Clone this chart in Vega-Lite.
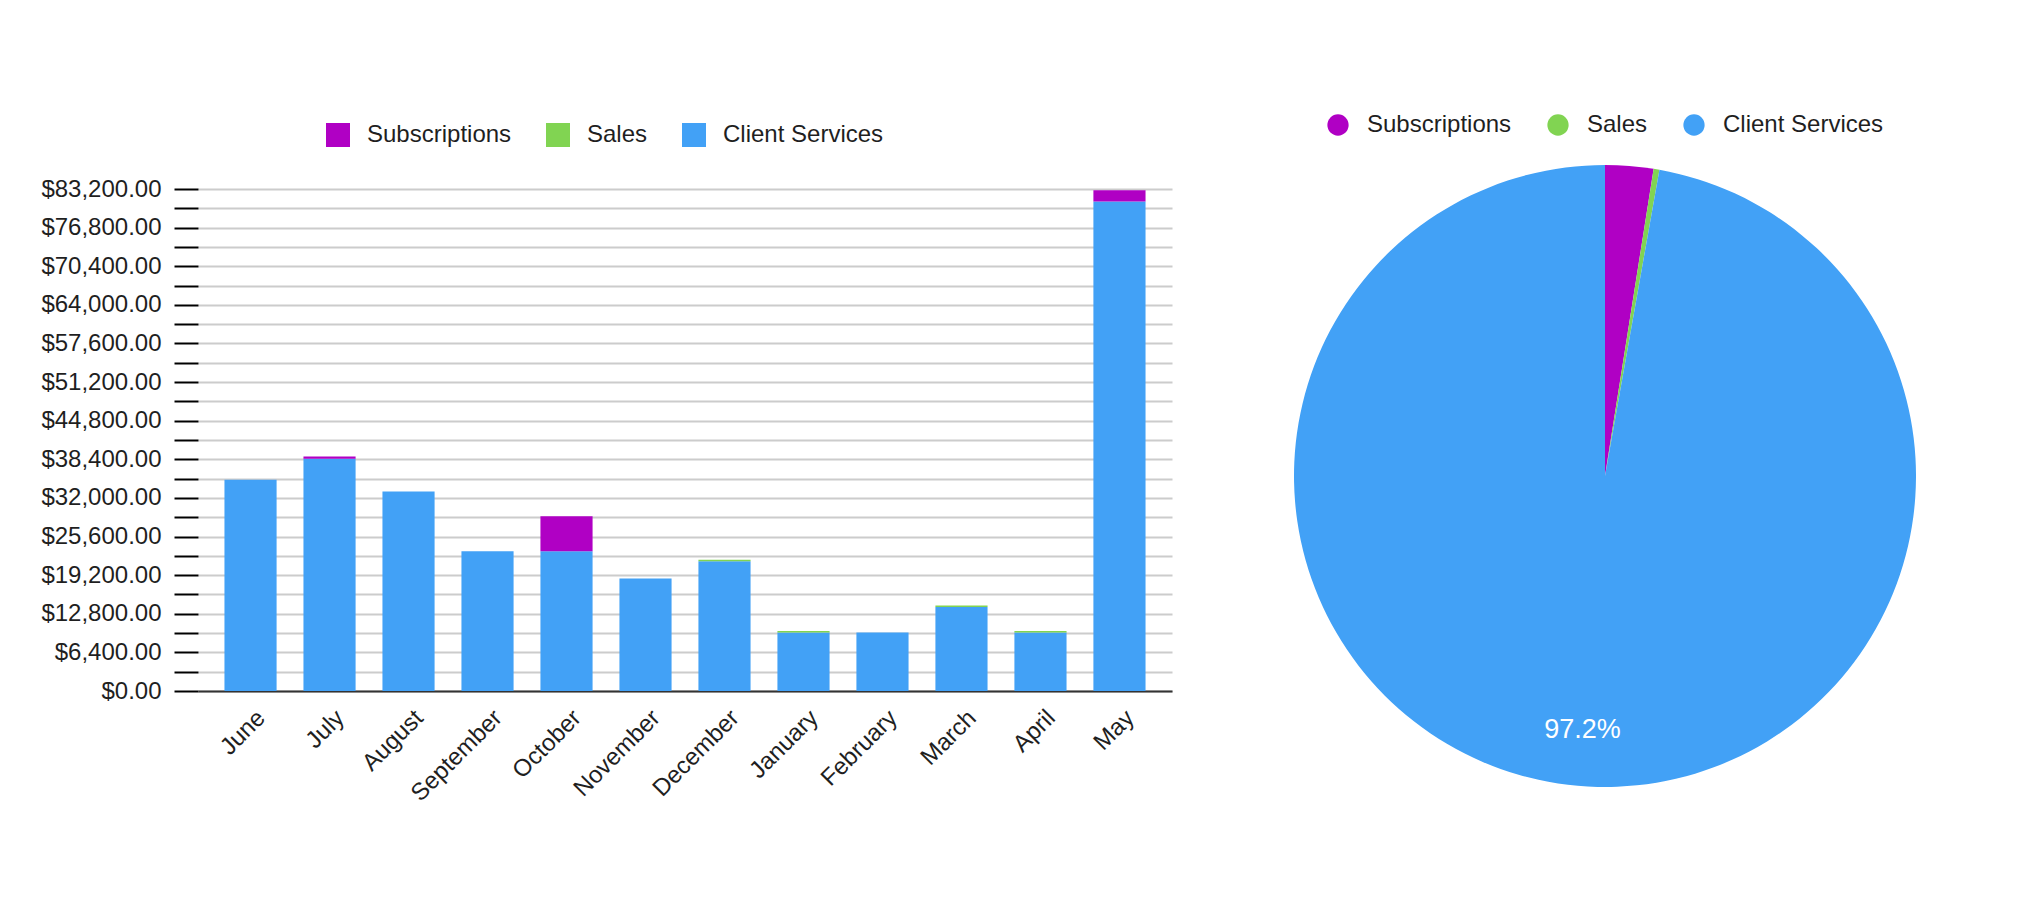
{
  "$schema": "https://vega.github.io/schema/vega-lite/v6.json",
  "padding": {"left": 40, "top": 113, "right": 0, "bottom": 0},
  "autosize": {"type": "pad"},
  "config": {
    "view": {"stroke": null},
    "font": "Liberation Sans",
    "concat": {"spacing": 122}
  },
  "datasets": {
    "monthly": [
      {"month": "June", "series": "Client Services", "amount": 35000},
      {"month": "July", "series": "Client Services", "amount": 38500},
      {"month": "July", "series": "Subscriptions", "amount": 350},
      {"month": "August", "series": "Client Services", "amount": 33070},
      {"month": "September", "series": "Client Services", "amount": 23150},
      {"month": "October", "series": "Client Services", "amount": 23150},
      {"month": "October", "series": "Subscriptions", "amount": 5800},
      {"month": "November", "series": "Client Services", "amount": 18650},
      {"month": "December", "series": "Client Services", "amount": 21510},
      {"month": "December", "series": "Sales", "amount": 250},
      {"month": "January", "series": "Client Services", "amount": 9710},
      {"month": "January", "series": "Sales", "amount": 250},
      {"month": "February", "series": "Client Services", "amount": 9710},
      {"month": "March", "series": "Client Services", "amount": 13910},
      {"month": "March", "series": "Sales", "amount": 250},
      {"month": "April", "series": "Client Services", "amount": 9710},
      {"month": "April", "series": "Sales", "amount": 250},
      {"month": "May", "series": "Client Services", "amount": 81110},
      {"month": "May", "series": "Subscriptions", "amount": 1900}
    ],
    "share": [
      {"series": "Subscriptions", "share": 0.025},
      {"series": "Sales", "share": 0.003},
      {"series": "Client Services", "share": 0.972}
    ]
  },
  "hconcat": [
    {
      "width": 974,
      "height": 502,
      "data": {"name": "monthly"},
      "mark": {"type": "bar"},
      "encoding": {
        "x": {
          "field": "month",
          "type": "nominal",
          "sort": ["June", "July", "August", "September", "October", "November", "December", "January", "February", "March", "April", "May"],
          "scale": {"paddingInner": 0.34, "paddingOuter": 0.335},
          "axis": {
            "title": null,
            "labelAngle": -45,
            "labelAlign": "right",
            "labelBaseline": "middle",
            "labelFontSize": 24,
            "labelColor": "#1f1f1f",
            "labelPadding": 23,
            "labelOffset": 11,
            "ticks": false,
            "grid": false,
            "domainColor": "#333333",
            "domainWidth": 2
          }
        },
        "y": {
          "field": "amount",
          "type": "quantitative",
          "stack": "zero",
          "scale": {"domain": [0, 83200], "nice": false},
          "axis": {
            "title": null,
            "values": [0, 3200, 6400, 9600, 12800, 16000, 19200, 22400, 25600, 28800, 32000, 35200, 38400, 41600, 44800, 48000, 51200, 54400, 57600, 60800, 64000, 67200, 70400, 73600, 76800, 80000, 83200],
            "labelExpr": "datum.value % 6400 === 0 ? format(datum.value, '$,.2f') : ''",
            "domain": false,
            "tickSize": 24,
            "tickColor": "#000000",
            "tickWidth": 2,
            "gridColor": "#cccccc",
            "gridWidth": 2,
            "labelFontSize": 24,
            "labelPadding": 13,
            "labelColor": "#1f1f1f"
          }
        },
        "color": {
          "field": "series",
          "type": "nominal",
          "scale": {"domain": ["Subscriptions", "Sales", "Client Services"], "range": ["#b000c4", "#81d452", "#42a1f6"]},
          "legend": {
            "orient": "none",
            "legendX": 128,
            "legendY": -66,
            "direction": "horizontal",
            "title": null,
            "symbolType": "square",
            "symbolSize": 576,
            "symbolStrokeWidth": 0,
            "symbolOpacity": 1,
            "labelFontSize": 24,
            "labelOffset": 17,
            "labelLimit": 400,
            "columnPadding": 34,
            "labelColor": "#1f1f1f",
            "padding": 0
          }
        },
        "order": {"field": "series", "sort": "ascending"}
      }
    },
    {
      "width": 622,
      "height": 574,
      "data": {"name": "share"},
      "encoding": {
        "theta": {"field": "share", "type": "quantitative", "stack": true},
        "order": {"field": "series", "sort": "descending"}
      },
      "layer": [
        {
          "mark": {"type": "arc", "outerRadius": 311},
          "encoding": {
            "color": {
              "field": "series",
              "type": "nominal",
              "scale": {"domain": ["Subscriptions", "Sales", "Client Services"], "range": ["#b000c4", "#81d452", "#42a1f6"]},
              "legend": {
                "orient": "none",
                "legendX": 32,
                "legendY": -76,
                "direction": "horizontal",
                "title": null,
                "symbolType": "circle",
                "symbolSize": 452,
                "symbolStrokeWidth": 0,
                "symbolOpacity": 1,
                "labelFontSize": 24,
                "labelOffset": 17,
                "labelLimit": 400,
                "columnPadding": 34,
                "labelColor": "#1f1f1f",
                "padding": 0
              }
            }
          }
        },
        {
          "mark": {"type": "text", "radius": 255, "fontSize": 27, "color": "#ffffff"},
          "encoding": {
            "detail": {"field": "series", "type": "nominal"},
            "text": {
              "field": "share",
              "type": "quantitative",
              "format": ".1%",
              "condition": {"test": "datum.series !== 'Client Services'", "value": ""}
            }
          }
        }
      ]
    }
  ],
  "resolve": {"scale": {"color": "independent"}, "legend": {"color": "independent"}}
}
